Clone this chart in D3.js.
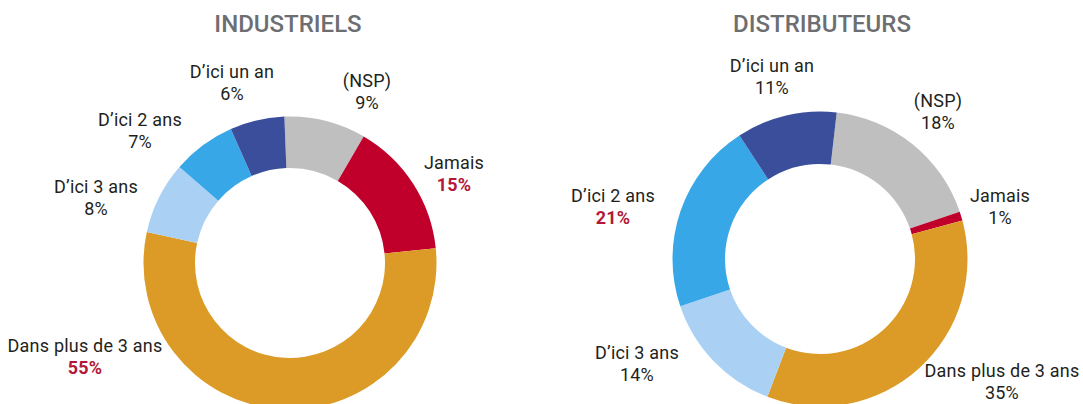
<!DOCTYPE html>
<html>
<head>
<meta charset="utf-8">
<script src="https://cdn.jsdelivr.net/npm/d3@7"></script>
<style>
  html, body { margin: 0; padding: 0; background: #ffffff; }
  svg { display: block; }
</style>
</head>
<body>
<svg id="chart" width="1083" height="404"></svg>
<script>
// Categories in slice order (clockwise from the top)
const categories = ["(NSP)", "Jamais", "Dans plus de 3 ans", "D’ici 3 ans", "D’ici 2 ans", "D’ici un an"];

// Share of respondents (%) per group
const industrielsValues = [9, 15, 55, 8, 7, 6];
const distributeursValues = [18, 1, 35, 14, 21, 11];

// Group titles
const groupTitles = ["INDUSTRIELS", "DISTRIBUTEURS"];

// Categories whose percentage is emphasised, per group
const industrielsHighlight = ["Jamais", "Dans plus de 3 ans"];
const distributeursHighlight = ["D’ici 2 ans"];

// ---- styling / layout ----
const sliceColors = ["#bfbfbf", "#c0002a", "#dc9b26", "#aad1f4", "#38a7e7", "#3a4e9b"];
const textColor = "#231f20";
const emphasisColor = "#b3173a";
const titleColor = "#6d6e71";
const fontFamily = "Roboto, 'DejaVu Sans', sans-serif";

const svg = d3.select("#chart");

const color = d3.scaleOrdinal().domain(categories).range(sliceColors);

// Label anchor offsets (relative to each ring centre), one per category
const industrielsLabelPos = [[77, -176], [164, -94], [-205, 89], [-194, -70], [-150, -137], [-58, -185]];
const distributeursLabelPos = [[118, -152], [180, -57], [182, 118], [-183, 100], [-207, -57], [-48, -187]];

const panels = [
  { title: groupTitles[0], values: industrielsValues, highlight: industrielsHighlight,
    cx: 290, cy: 263, outer: 146.5, inner: 95, start: -2.2, titleX: 288, labels: industrielsLabelPos },
  { title: groupTitles[1], values: distributeursValues, highlight: distributeursHighlight,
    cx: 820, cy: 259, outer: 147.5, inner: 95, start: 6.5, titleX: 822, labels: distributeursLabelPos }
];

panels.forEach(p => {
  const data = categories.map((c, i) => ({ category: c, value: p.values[i] }));
  const startRad = p.start * Math.PI / 180;
  const pie = d3.pie()
    .sort(null)
    .value(d => d.value)
    .startAngle(startRad)
    .endAngle(startRad + 2 * Math.PI);
  const arc = d3.arc().innerRadius(p.inner).outerRadius(p.outer);

  const g = svg.append("g").attr("transform", `translate(${p.cx},${p.cy})`);

  g.selectAll("path.slice")
    .data(pie(data))
    .join("path")
    .attr("class", "slice")
    .attr("d", arc)
    .attr("fill", d => color(d.data.category));

  // Title
  svg.append("text")
    .attr("x", p.titleX)
    .attr("y", 32)
    .attr("text-anchor", "middle")
    .attr("font-family", fontFamily)
    .attr("font-size", 24)
    .attr("font-weight", 500)
    .attr("fill", titleColor)
    .text(p.title);

  // Category labels with percentages
  const lab = g.selectAll("g.label")
    .data(data)
    .join("g")
    .attr("class", "label")
    .attr("transform", (d, i) => `translate(${p.labels[i][0]},${p.labels[i][1]})`);

  lab.append("text")
    .attr("text-anchor", "middle")
    .attr("font-family", fontFamily)
    .attr("font-size", 18)
    .attr("letter-spacing", 0.2)
    .attr("fill", textColor)
    .text(d => d.category);

  lab.append("text")
    .attr("y", 22)
    .attr("text-anchor", "middle")
    .attr("font-family", fontFamily)
    .attr("font-size", 18)
    .attr("letter-spacing", 0.2)
    .attr("font-weight", d => p.highlight.includes(d.category) ? "bold" : "normal")
    .attr("fill", d => p.highlight.includes(d.category) ? emphasisColor : textColor)
    .text(d => d3.format("d")(d.value) + "%");
});
</script>
</body>
</html>
